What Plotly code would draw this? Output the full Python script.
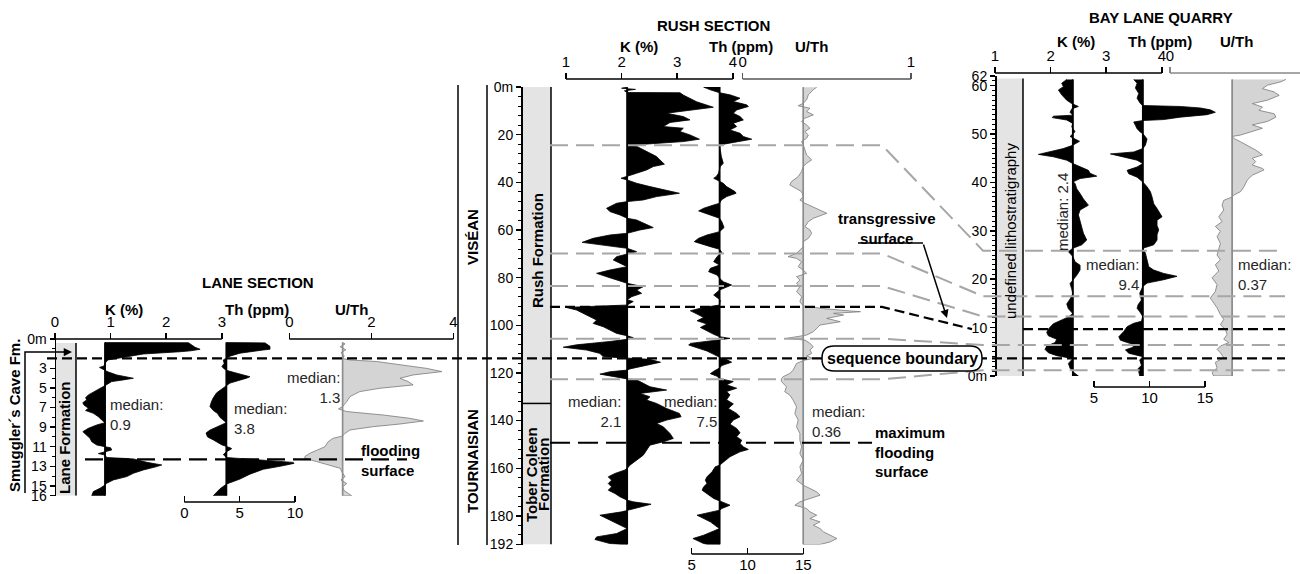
import plotly.graph_objects as go

W, H = 1300, 574
FONT = "Liberation Sans, Arial, Helvetica, sans-serif"

# ------------------------------------------------------------------ DATA
# (depth in m, value) pairs read from the logs
lane_k = [(0.37, 0.90), (0.38, 2.40), (0.85, 2.52), (1.05, 2.61), (1.20, 2.45), (1.30, 2.25), (1.53, 1.59),
          (1.80, 1.29), (2.00, 1.02), (2.14, 0.95), (2.48, 0.90), (2.76, 0.88), (2.90, 0.80), (3.05, 0.85),
          (3.16, 0.90), (3.35, 0.95), (3.67, 1.11), (4.01, 1.41), (4.20, 1.20), (4.35, 1.02), (4.69, 0.92),
          (5.03, 0.81), (5.37, 0.69), (5.71, 0.60), (6.00, 0.55), (6.22, 0.57), (6.50, 0.50), (6.73, 0.52),
          (7.07, 0.60), (7.30, 0.55), (7.59, 0.69), (7.93, 0.78), (8.27, 0.84), (8.54, 0.90), (8.78, 0.75),
          (9.12, 0.60), (9.46, 0.50), (9.80, 0.57), (10.14, 0.63), (10.48, 0.66), (10.82, 0.75), (11.00, 0.90),
          (11.10, 1.00), (11.33, 1.02), (11.50, 0.90), (11.70, 0.78), (11.85, 0.90), (12.10, 0.93), (12.24, 1.41),
          (12.59, 1.65), (12.86, 1.92), (13.03, 1.83), (13.37, 1.59), (13.71, 1.41), (14.05, 1.29), (14.39, 1.05),
          (14.73, 0.93), (14.90, 0.90), (15.24, 0.81), (15.58, 0.69), (16.00, 0.66)]
lane_th = [(0.37, 3.80), (0.40, 7.30), (0.75, 7.74), (1.05, 7.74), (1.12, 7.14), (1.45, 5.03), (1.75, 4.13),
           (1.95, 3.80), (2.14, 3.52), (2.50, 3.60), (2.80, 3.40), (3.00, 3.55), (3.20, 3.80), (3.45, 4.60),
           (3.85, 5.93), (4.00, 5.63), (4.50, 4.13), (5.00, 3.52), (5.50, 2.92), (6.00, 2.62), (6.40, 2.45),
           (6.90, 2.32), (7.30, 2.62), (7.60, 3.00), (8.00, 3.22), (8.54, 3.80), (8.78, 3.37), (9.30, 2.32),
           (9.60, 1.96), (10.00, 2.10), (10.30, 2.62), (10.80, 3.37), (11.10, 4.13), (11.20, 4.28), (11.50, 3.83),
           (11.80, 3.52), (12.10, 3.80), (12.25, 6.23), (12.40, 7.44), (12.60, 9.85), (12.70, 9.91), (13.00, 8.64),
           (13.30, 7.14), (13.80, 5.93), (14.30, 5.03), (14.80, 3.83), (15.30, 3.22), (16.00, 2.62)]
lane_uth = [(0.37, 1.30), (0.50, 1.36), (0.80, 1.24), (1.10, 1.38), (1.40, 1.26), (1.70, 1.34), (2.00, 1.30),
            (2.14, 1.48), (2.30, 2.13), (2.65, 2.70), (3.00, 3.35), (3.33, 3.72), (3.67, 3.02), (4.01, 2.70),
            (4.35, 2.90), (4.69, 3.02), (5.03, 2.21), (5.37, 1.72), (5.88, 1.48), (6.39, 1.40), (6.90, 1.30),
            (7.14, 1.20), (7.41, 1.40), (7.76, 2.29), (8.10, 2.94), (8.37, 3.27), (8.68, 2.70), (8.95, 2.05),
            (9.29, 1.48), (9.63, 1.36), (9.90, 1.30), (10.14, 1.07), (10.48, 0.95), (11.00, 0.87), (11.33, 0.67),
            (11.67, 0.50), (12.00, 0.38), (12.18, 0.38), (12.52, 0.67), (12.86, 0.99), (13.20, 1.24), (13.70, 1.30),
            (14.05, 1.36), (14.40, 1.26), (14.75, 1.40), (15.10, 1.30), (15.50, 1.34), (15.80, 1.45), (16.00, 1.52)]
lane_k_median, lane_th_median, lane_uth_median = 0.9, 3.8, 1.3

rush_k = [(0.1, 2.10), (0.5, 2.00), (1.0, 2.25), (1.6, 2.05), (2.3, 2.10), (2.4, 3.05), (3.4, 3.11), (4.8, 3.23),
          (6.2, 3.35), (8.5, 3.65), (9.6, 3.29), (11.0, 2.81), (12.4, 3.11), (13.8, 3.23), (14.9, 2.87),
          (16.6, 2.75), (17.3, 3.11), (18.7, 3.05), (20.1, 3.23), (21.9, 3.40), (22.9, 3.11), (24.0, 2.51),
          (24.5, 2.10), (24.9, 2.27), (26.4, 2.39), (27.8, 2.51), (29.2, 2.63), (30.6, 2.69), (32.4, 2.77),
          (33.4, 2.57), (34.8, 2.45), (36.2, 2.27), (37.6, 2.10), (38.3, 1.99), (39.0, 2.10), (40.4, 2.27),
          (41.8, 2.51), (43.2, 2.75), (44.6, 3.04), (46.0, 2.63), (47.4, 2.39), (48.1, 2.10), (48.8, 1.91),
          (50.9, 1.73), (52.3, 1.79), (53.7, 1.97), (55.1, 2.10), (55.8, 2.27), (57.9, 2.45), (59.0, 2.57),
          (60.0, 2.33), (61.4, 2.10), (62.1, 1.79), (63.5, 1.49), (65.2, 1.29), (66.3, 1.67), (67.7, 2.10),
          (69.1, 2.27), (70.1, 2.10), (71.2, 1.91), (72.6, 1.85), (74.0, 1.97), (75.4, 2.10), (76.8, 1.79),
          (78.2, 1.55), (79.6, 1.73), (81.0, 1.91), (82.4, 2.10), (83.8, 2.39), (85.2, 2.27), (86.6, 2.36),
          (88.0, 2.18), (89.3, 2.10), (90.0, 2.21), (91.5, 2.10), (92.5, 1.00), (93.6, 1.19), (95.0, 1.31),
          (96.4, 1.43), (97.8, 1.55), (99.2, 1.49), (100.6, 1.67), (102.0, 1.79), (103.4, 1.91), (104.4, 2.10),
          (105.2, 2.21), (105.9, 2.10), (106.8, 1.79), (108.2, 1.19), (109.2, 0.95), (110.4, 1.37), (111.8, 1.61),
          (113.2, 1.67), (113.9, 2.10), (114.3, 2.51), (115.5, 2.70), (116.9, 2.39), (118.3, 2.15), (118.8, 2.10),
          (119.5, 1.79), (120.5, 1.61), (121.6, 1.85), (122.5, 2.10), (122.9, 2.27), (124.4, 2.39), (125.8, 2.51),
          (127.2, 2.81), (128.6, 2.33), (130.0, 2.51), (131.4, 2.45), (132.8, 2.63), (134.9, 2.81), (137.0, 3.04),
          (138.4, 3.07), (139.8, 2.81), (141.2, 2.63), (142.6, 2.75), (145.4, 2.87), (147.5, 2.93), (148.9, 2.75),
          (150.3, 2.51), (152.4, 2.45), (154.5, 2.39), (156.6, 2.27), (158.7, 2.15), (160.1, 2.10), (160.8, 2.05),
          (162.2, 1.88), (163.6, 1.76), (165.0, 1.82), (166.4, 1.76), (167.8, 1.82), (169.2, 1.76), (170.6, 1.88),
          (172.0, 1.97), (173.4, 2.10), (174.1, 2.21), (175.1, 2.53), (176.2, 2.33), (177.6, 2.10), (178.3, 2.00),
          (179.7, 1.61), (181.1, 1.73), (182.5, 1.85), (183.9, 1.97), (185.3, 2.10), (187.4, 1.91), (188.8, 1.55),
          (189.9, 1.52), (191.6, 1.79), (192.0, 2.00)]
rush_th = [(0.0, 7.50), (0.05, 6.07), (1.2, 6.67), (2.0, 7.20), (2.4, 7.50), (3.3, 8.43), (4.7, 9.33), (6.1, 8.73),
           (7.5, 9.93), (8.2, 10.08), (9.6, 9.03), (11.0, 8.73), (12.4, 9.33), (13.8, 9.63), (15.2, 8.73),
           (16.6, 9.03), (18.0, 8.43), (19.4, 9.33), (20.8, 9.63), (21.9, 10.38), (23.1, 9.03), (24.3, 7.50),
           (26.4, 7.56), (29.2, 7.66), (32.0, 7.83), (33.4, 7.56), (36.2, 7.40), (37.6, 7.20), (38.3, 6.97),
           (39.7, 7.50), (40.4, 7.83), (41.8, 8.13), (43.9, 8.88), (44.6, 8.98), (46.0, 8.13), (47.4, 7.66),
           (48.8, 7.50), (49.5, 6.97), (50.9, 6.07), (52.0, 5.62), (53.7, 6.67), (55.1, 7.50), (56.5, 7.70),
           (59.0, 7.90), (60.7, 7.50), (62.1, 6.37), (63.5, 5.62), (64.9, 5.23), (67.0, 6.67), (68.1, 7.50),
           (69.4, 7.70), (71.2, 7.27), (73.3, 6.97), (74.7, 7.50), (76.1, 6.67), (77.5, 6.52), (78.9, 7.27),
           (80.3, 7.50), (81.7, 7.83), (83.1, 8.58), (85.2, 7.50), (87.3, 6.97), (89.4, 7.56), (91.5, 7.50),
           (92.5, 6.07), (93.9, 4.88), (95.3, 5.48), (96.7, 6.07), (98.1, 5.48), (99.5, 6.37), (100.9, 5.78),
           (102.4, 6.37), (103.8, 6.97), (104.8, 7.50), (105.5, 8.43), (106.4, 6.97), (107.6, 4.88), (108.3, 4.73),
           (109.4, 5.48), (110.8, 6.37), (112.2, 6.97), (113.4, 7.50), (114.4, 8.13), (115.5, 8.58), (116.9, 7.70),
           (117.9, 7.50), (119.3, 6.97), (120.3, 6.67), (121.4, 7.27), (122.4, 7.50), (123.6, 8.73), (125.0, 8.13),
           (126.4, 9.03), (127.8, 8.13), (129.2, 8.43), (131.3, 8.13), (133.0, 8.73), (134.9, 8.28), (137.0, 9.03),
           (138.4, 9.33), (139.8, 8.73), (141.5, 8.43), (143.3, 9.03), (145.1, 9.33), (146.8, 9.03), (148.2, 9.48),
           (149.6, 9.33), (151.0, 9.63), (152.1, 10.08), (153.1, 9.33), (155.2, 8.43), (157.3, 7.83), (158.7, 7.50),
           (159.4, 7.11), (161.5, 6.82), (163.6, 6.37), (165.0, 6.22), (166.4, 6.37), (167.8, 6.07), (169.2, 5.93),
           (171.3, 6.52), (172.7, 6.97), (173.7, 7.50), (175.5, 8.43), (176.9, 7.70), (177.6, 7.50), (179.7, 5.48),
           (181.1, 6.07), (182.5, 6.67), (184.6, 7.27), (185.3, 7.50), (188.1, 6.07), (189.5, 5.11), (191.6, 6.07),
           (192.0, 6.40)]
rush_uth = [(0.1, 0.44), (1.1, 0.42), (3.3, 0.39), (5.4, 0.38), (6.8, 0.36), (7.9, 0.33), (8.9, 0.40), (10.3, 0.38),
            (11.7, 0.42), (13.1, 0.37), (14.5, 0.35), (15.9, 0.38), (17.3, 0.40), (18.7, 0.37), (20.1, 0.39),
            (21.5, 0.38), (22.9, 0.35), (24.3, 0.36), (26.4, 0.37), (28.5, 0.38), (30.6, 0.41), (32.0, 0.38),
            (33.4, 0.36), (35.5, 0.35), (37.6, 0.33), (39.7, 0.29), (41.1, 0.28), (42.5, 0.32), (43.9, 0.35),
            (46.0, 0.36), (47.4, 0.34), (48.8, 0.37), (50.9, 0.44), (53.0, 0.50), (55.1, 0.42), (56.5, 0.39),
            (58.6, 0.37), (60.0, 0.40), (61.4, 0.41), (63.5, 0.39), (64.9, 0.36), (67.0, 0.36), (69.8, 0.32),
            (71.2, 0.27), (71.9, 0.32), (73.3, 0.35), (75.4, 0.33), (76.8, 0.36), (78.2, 0.38), (79.6, 0.32),
            (81.0, 0.34), (82.4, 0.32), (83.8, 0.34), (85.9, 0.32), (88.0, 0.35), (90.1, 0.34), (91.9, 0.36),
            (93.0, 0.48), (94.0, 0.64), (94.3, 0.70), (95.0, 0.54), (95.7, 0.60), (97.1, 0.50), (98.5, 0.58),
            (99.9, 0.46), (101.3, 0.44), (102.7, 0.42), (104.1, 0.38), (104.8, 0.32), (105.5, 0.26), (106.2, 0.37),
            (107.6, 0.40), (109.0, 0.42), (110.4, 0.40), (111.8, 0.41), (112.9, 0.38), (113.9, 0.42), (114.6, 0.37),
            (116.0, 0.32), (117.4, 0.31), (118.8, 0.30), (120.2, 0.28), (121.6, 0.24), (122.5, 0.23), (123.6, 0.23),
            (125.8, 0.26), (127.9, 0.25), (129.3, 0.28), (131.4, 0.30), (134.2, 0.32), (137.0, 0.31), (139.8, 0.33),
            (142.6, 0.32), (145.4, 0.34), (148.2, 0.34), (151.0, 0.35), (153.8, 0.34), (156.6, 0.36), (159.4, 0.34),
            (162.2, 0.35), (165.0, 0.32), (167.1, 0.36), (168.5, 0.40), (169.9, 0.44), (171.3, 0.46), (172.7, 0.40),
            (174.1, 0.34), (175.5, 0.31), (176.9, 0.38), (178.3, 0.40), (179.7, 0.44), (181.1, 0.40), (182.5, 0.46),
            (183.9, 0.42), (185.3, 0.46), (186.7, 0.48), (188.1, 0.52), (189.5, 0.56), (190.9, 0.52), (192.0, 0.46)]
rush_k_median, rush_th_median, rush_uth_median = 2.1, 7.5, 0.36

# Bay Lane Quarry: (height above base in m, value)
bay_k = [(61.3, 2.29), (60.5, 2.20), (59.8, 2.23), (59.1, 2.14), (58.1, 2.20), (57.0, 2.29), (56.3, 2.38),
         (55.7, 2.50), (55.2, 2.38), (54.5, 2.35), (53.9, 2.40), (53.7, 2.05), (53.4, 2.03), (52.9, 2.29),
         (52.2, 2.40), (51.5, 2.38), (50.5, 2.44), (49.5, 2.35), (48.5, 2.52), (47.7, 2.40), (47.0, 2.23),
         (46.3, 1.93), (45.8, 1.78), (45.3, 2.05), (44.6, 2.29), (43.9, 2.40), (43.2, 2.53), (42.5, 2.68),
         (41.9, 2.71), (41.3, 2.83), (40.8, 2.53), (40.1, 2.40), (39.8, 2.44), (38.7, 2.47), (37.7, 2.53),
         (36.6, 2.59), (35.3, 2.68), (34.3, 2.53), (33.3, 2.50), (32.2, 2.53), (30.9, 2.56), (29.5, 2.59),
         (28.1, 2.65), (27.1, 2.56), (26.4, 2.40), (25.7, 2.32), (24.7, 2.40), (23.6, 2.44), (22.9, 2.53),
         (21.9, 2.53), (20.8, 2.47), (19.8, 2.40), (19.1, 2.35), (18.0, 2.38), (17.0, 2.40), (15.9, 2.35),
         (14.9, 2.29), (13.9, 2.32), (12.9, 2.40), (12.2, 2.32), (11.5, 2.17), (10.8, 2.05), (9.7, 1.96),
         (9.0, 1.93), (8.3, 1.96), (7.6, 2.11), (6.9, 2.08), (6.2, 1.93), (5.5, 1.90), (4.8, 1.96), (4.2, 2.11),
         (3.6, 2.40), (2.6, 2.32), (1.6, 2.35), (0.9, 2.40), (0.0, 2.50)]
bay_th = [(61.3, 8.58), (60.5, 8.88), (59.5, 8.73), (58.4, 9.03), (57.4, 8.88), (56.3, 9.18), (55.9, 9.40),
          (55.7, 12.78), (55.4, 14.58), (55.0, 15.48), (54.5, 15.93), (54.0, 15.18), (53.5, 12.78), (53.0, 11.28),
          (52.8, 9.40), (52.5, 8.58), (51.8, 8.73), (51.1, 8.88), (50.4, 9.18), (50.1, 9.40), (49.0, 9.78),
          (47.7, 9.63), (47.0, 9.40), (46.3, 8.58), (45.9, 6.48), (45.3, 7.68), (44.6, 8.88), (43.9, 9.40),
          (43.2, 8.88), (42.5, 7.98), (41.8, 8.13), (41.1, 8.88), (40.1, 9.40), (39.1, 9.78), (38.1, 10.08),
          (37.0, 10.23), (35.6, 10.38), (34.6, 10.68), (33.6, 10.98), (32.9, 11.13), (32.2, 10.68), (31.1, 10.68),
          (30.2, 10.83), (29.2, 10.68), (28.1, 10.68), (27.1, 10.38), (26.4, 9.40), (25.4, 9.63), (24.0, 9.78),
          (22.6, 9.93), (21.9, 10.38), (21.2, 11.28), (20.6, 12.48), (19.9, 11.28), (19.2, 9.78), (18.5, 9.40),
          (17.1, 9.12), (15.7, 9.27), (14.7, 8.97), (14.0, 8.88), (13.3, 9.12), (12.3, 9.40), (11.3, 9.27),
          (10.9, 8.58), (10.2, 7.98), (9.2, 7.68), (8.1, 7.23), (7.4, 7.38), (6.7, 8.28), (6.0, 8.58), (5.4, 7.83),
          (4.7, 8.13), (4.0, 9.40), (3.3, 9.12), (2.2, 9.27), (1.5, 8.97), (0.0, 9.12)]
bay_uth = [(61.3, 0.69), (60.8, 0.66), (60.1, 0.58), (59.4, 0.55), (58.7, 0.62), (58.0, 0.65), (57.0, 0.58),
           (56.3, 0.49), (55.6, 0.55), (54.9, 0.53), (54.2, 0.62), (53.5, 0.63), (52.6, 0.58), (51.9, 0.49),
           (51.2, 0.55), (50.5, 0.49), (49.8, 0.42), (49.5, 0.37), (49.1, 0.38), (48.4, 0.42), (47.7, 0.46),
           (46.7, 0.51), (45.7, 0.55), (45.0, 0.49), (44.3, 0.51), (43.6, 0.49), (42.9, 0.55), (42.6, 0.56),
           (41.5, 0.49), (40.5, 0.46), (39.1, 0.44), (38.1, 0.42), (37.4, 0.38), (37.0, 0.37), (36.3, 0.32),
           (35.3, 0.31), (34.3, 0.32), (32.9, 0.29), (31.9, 0.31), (30.9, 0.27), (29.9, 0.30), (28.8, 0.28),
           (27.4, 0.30), (26.0, 0.29), (25.0, 0.28), (24.0, 0.30), (23.0, 0.27), (21.7, 0.29), (20.3, 0.25),
           (18.9, 0.28), (17.5, 0.27), (16.1, 0.24), (15.1, 0.26), (14.1, 0.28), (12.7, 0.30), (11.7, 0.32),
           (10.6, 0.30), (9.6, 0.33), (8.6, 0.34), (7.6, 0.32), (6.9, 0.35), (6.2, 0.30), (5.5, 0.28), (4.8, 0.30),
           (3.8, 0.32), (2.8, 0.27), (1.7, 0.28), (0.7, 0.25), (0.0, 0.26)]
bay_k_median, bay_th_median, bay_uth_median = 2.4, 9.4, 0.37

# tick values / labels
lane_depth_ticks = [0, 3, 5, 7, 9, 11, 13, 15, 16]
rush_depth_ticks = [0, 20, 40, 60, 80, 100, 120, 140, 160, 180, 192]
bay_height_ticks = [0, 10, 20, 30, 40, 50, 60, 62]
lane_k_ticks, lane_th_ticks, lane_uth_ticks = [0, 1, 2, 3], [0, 5, 10], [0, 2, 4]
rush_k_ticks, rush_th_ticks, rush_uth_ticks = [1, 2, 3, 4], [5, 10, 15], [0, 1]
bay_k_ticks, bay_th_ticks, bay_uth_ticks = [1, 2, 3, 4], [5, 10, 15], [0]

# stratigraphic surfaces (depth / height in m)
lane_formation_top = 0.4
lane_seq_boundary = 2.0
lane_flooding_surface = 12.3
rush_gray_surfaces = [24.4, 69.9, 83.5, 105.6, 122.7]
rush_transgressive = 92.3
rush_seq_boundary = 113.9
rush_max_flooding = 149.3
rush_formation_contact = 132.8
bay_gray_surfaces = [25.9, 16.5, 12.3, 6.4, 1.2]
bay_transgressive = 9.7
bay_seq_boundary = 3.65
bay_section_top = 61.5

# ------------------------------------------------------------------ GEOMETRY
def fx(p):
    return p / W


def fy(p):
    return 1 - p / H


YAX = {
    'y': dict(top=339.0, bottom=495.7, rng=[16, 0], line_x=54.5, ticks=lane_depth_ticks, minor=1),
    'y2': dict(top=87.0, bottom=544.5, rng=[192, 0], line_x=521.0, ticks=rush_depth_ticks, minor=4),
    'y3': dict(top=76.0, bottom=376.0, rng=[0, 62], line_x=995.0, ticks=bay_height_ticks, minor=1),
}


def ypaper(yid, v):
    a = YAX[yid]
    r0, r1 = a['rng']
    t = (v - r0) / (r1 - r0)
    return fy(a['bottom']) + t * (fy(a['top']) - fy(a['bottom']))


XAX = {
    'x': dict(p0=55.0, v0=0, s=55.6, dom=(48, 226), ext=(0, 3), py=339, side='top', ticks=lane_k_ticks, color='black'),
    'x2': dict(p0=184.3, v0=0, s=11.07, dom=(178, 300), ext=(0, 10), py=502, side='bottom', ticks=lane_th_ticks, color='black'),
    'x3': dict(p0=289.3, v0=0, s=41.0, dom=(284, 458), ext=(0, 4), py=339, side='top', ticks=lane_uth_ticks, color='black'),
    'x4': dict(p0=566.0, v0=1, s=55.6, dom=(548, 740), ext=(1, 4), py=79, side='top', ticks=rush_k_ticks, color='black'),
    'x5': dict(p0=691.7, v0=5, s=11.16, dom=(675, 812), ext=(5, 15), py=554, side='bottom', ticks=rush_th_ticks, color='black'),
    'x6': dict(p0=742.7, v0=0, s=168.2, dom=(738, 915), ext=(0, 1), py=79, side='top', ticks=rush_uth_ticks, color='#555555'),
    'x7': dict(p0=995.0, v0=1, s=55.6, dom=(985, 1168), ext=(1, 4), py=73, side='top', ticks=bay_k_ticks, color='black'),
    'x8': dict(p0=1094.0, v0=5, s=11.1, dom=(1088, 1228), ext=(5, 15), py=387, side='bottom', ticks=bay_th_ticks, color='black'),
    'x9': dict(p0=1170.0, v0=0, s=168.0, dom=(1165, 1300), ext=(0, 0.774), py=73, side='top', ticks=bay_uth_ticks, color='#888888'),
}

fig = go.Figure()
layout = dict(width=W, height=H, margin=dict(l=0, r=0, t=0, b=0, pad=0, autoexpand=False), autosize=False,
              paper_bgcolor='white', plot_bgcolor='rgba(0,0,0,0)', showlegend=False,
              font=dict(family=FONT, size=14, color='black'))

for xid, a in XAX.items():
    key = 'xaxis' if xid == 'x' else 'xaxis' + xid[1:]
    lo = a['v0'] + (a['dom'][0] - a['p0']) / a['s']
    hi = a['v0'] + (a['dom'][1] - a['p0']) / a['s']
    layout[key] = dict(domain=[fx(a['dom'][0]), fx(a['dom'][1])], range=[lo, hi], anchor='free',
                       position=fy(a['py']), side=a['side'], showline=False, showgrid=False, zeroline=False,
                       automargin=False,
                       ticks='outside' if a['side'] == 'top' else 'inside', ticklen=6, tickwidth=1.5,
                       tickcolor=a['color'], tickmode='array', tickvals=a['ticks'],
                       ticktext=[str(t) for t in a['ticks']], tickfont=dict(size=15, family=FONT, color='black'),
                       fixedrange=True)

for yid, a in YAX.items():
    key = 'yaxis' if yid == 'y' else 'yaxis' + yid[1:]
    txt = ['0m' if t == 0 else str(t) for t in a['ticks']]
    layout[key] = dict(domain=[fy(a['bottom']), fy(a['top'])], range=a['rng'], anchor='free',
                       position=fx(a['line_x']), side='left', showline=True, linecolor='black', linewidth=1.5,
                       showgrid=False, zeroline=False, automargin=False, ticks='outside', ticklen=5, tickwidth=1.5,
                       tickcolor='black', tickmode='array', tickvals=a['ticks'], ticktext=txt,
                       tickfont=dict(size=14, family=FONT, color='black'),
                       minor=dict(tickmode='linear', tick0=0, dtick=a['minor'], ticks='outside',
                                  ticklen=3, tickwidth=1, tickcolor='black', showgrid=False),
                       fixedrange=True)

# ------------------------------------------------------------------ TRACKS
tracks = [
    (lane_k, lane_k_median, 'x', 'y', 'black'), (lane_th, lane_th_median, 'x2', 'y', 'black'),
    (lane_uth, lane_uth_median, 'x3', 'y', 'gray'),
    (rush_k, rush_k_median, 'x4', 'y2', 'black'), (rush_th, rush_th_median, 'x5', 'y2', 'black'),
    (rush_uth, rush_uth_median, 'x6', 'y2', 'gray'),
    (bay_k, bay_k_median, 'x7', 'y3', 'black'), (bay_th, bay_th_median, 'x8', 'y3', 'black'),
    (bay_uth, bay_uth_median, 'x9', 'y3', 'gray'),
]
for pairs, med, xid, yid, style in tracks:
    d = [p[0] for p in pairs]
    v = [p[1] for p in pairs]
    if style == 'black':
        fill, edge, medc, medw = 'black', 'black', 'black', 1.8
    else:
        fill, edge, medc, medw = '#d4d4d4', '#7a7a7a', '#8c8c8c', 1.6
    fig.add_trace(go.Scatter(x=v + [med, med], y=d + [d[-1], d[0]], mode='lines', fill='toself',
                             fillcolor=fill, line=dict(color=edge, width=0.8), xaxis=xid, yaxis=yid,
                             hoverinfo='skip'))
    fig.add_trace(go.Scatter(x=[med, med], y=[d[0], d[-1]], mode='lines', line=dict(color=medc, width=medw),
                             xaxis=xid, yaxis=yid, hoverinfo='skip'))

# ------------------------------------------------------------------ SHAPES
shapes = []
GRAY_BAR = '#e4e4e4'
GRAY_DASH = '#a6a6a6'


def ppath(points, close=False):
    s = 'M ' + ' L '.join('%.5f,%.5f' % (fx(x), y) for x, y in points)
    return s + (' Z' if close else '')


# axis lines of the value tracks
for xid, a in XAX.items():
    shapes.append(dict(type='line', xref=xid, yref='paper', x0=a['ext'][0], x1=a['ext'][1],
                       y0=fy(a['py']), y1=fy(a['py']), line=dict(color=a['color'], width=1.5)))

# lithostratigraphic columns
shapes += [
    dict(type='rect', xref='paper', yref='y', x0=fx(55), x1=fx(76), y0=lane_formation_top, y1=16,
         fillcolor=GRAY_BAR, line=dict(width=0), layer='below'),
    dict(type='line', xref='paper', yref='y', x0=fx(76), x1=fx(76), y0=lane_formation_top, y1=16,
         line=dict(color='black', width=1.5)),
    dict(type='rect', xref='paper', yref='y2', x0=fx(522.5), x1=fx(551), y0=0, y1=192,
         fillcolor=GRAY_BAR, line=dict(width=0), layer='below'),
    dict(type='line', xref='paper', yref='y2', x0=fx(551), x1=fx(551), y0=0, y1=192,
         line=dict(color='black', width=1.5)),
    dict(type='line', xref='paper', yref='y2', x0=fx(522.5), x1=fx(551), y0=rush_formation_contact,
         y1=rush_formation_contact, line=dict(color='black', width=1.5)),
    dict(type='line', xref='paper', yref='paper', x0=fx(458), x1=fx(458), y0=fy(85), y1=fy(545),
         line=dict(color='black', width=1.5)),
    dict(type='line', xref='paper', yref='paper', x0=fx(487), x1=fx(487), y0=fy(85), y1=fy(545),
         line=dict(color='black', width=1.5)),
    dict(type='rect', xref='paper', yref='y3', x0=fx(995.5), x1=fx(1023), y0=0, y1=bay_section_top,
         fillcolor=GRAY_BAR, line=dict(width=0), layer='below'),
    dict(type='line', xref='paper', yref='y3', x0=fx(1023), x1=fx(1023), y0=0, y1=bay_section_top,
         line=dict(color='black', width=1.5)),
]

# correlation surfaces
for r, b in zip(rush_gray_surfaces, bay_gray_surfaces):
    yr, yb = ypaper('y2', r), ypaper('y3', b)
    shapes.append(dict(type='path', xref='paper', yref='paper',
                       path=ppath([(550, yr), (882, yr), (983, yb), (1285, yb)]),
                       line=dict(color=GRAY_DASH, width=2, dash='18px,8px')))
yr, yb = ypaper('y2', rush_transgressive), ypaper('y3', bay_transgressive)
shapes.append(dict(type='path', xref='paper', yref='paper', path=ppath([(550, yr), (882, yr), (972, yb)]),
                   line=dict(color='black', width=2.2, dash='10px,5px')))
shapes.append(dict(type='path', xref='paper', yref='paper', path=ppath([(1023, yb), (1285, yb)]),
                   line=dict(color='black', width=2.2, dash='10px,5px')))
ysb = ypaper('y2', rush_seq_boundary)
shapes.append(dict(type='path', xref='paper', yref='paper', path=ppath([(47, ysb), (1285, ysb)]),
                   line=dict(color='black', width=2.2, dash='10px,5px')))
shapes.append(dict(type='line', xref='paper', yref='y', x0=fx(85), x1=fx(407), y0=lane_flooding_surface,
                   y1=lane_flooding_surface, line=dict(color='black', width=2.2, dash='18px,8px')))
shapes.append(dict(type='line', xref='paper', yref='y2', x0=fx(550), x1=fx(872), y0=rush_max_flooding,
                   y1=rush_max_flooding, line=dict(color='black', width=2.2, dash='20px,8px')))

# rounded box of "sequence boundary"
bx0, bx1, by0, by1, rr = 822, 982, 346, 371, 12
box = ('M %.5f,%.5f L %.5f,%.5f Q %.5f,%.5f %.5f,%.5f L %.5f,%.5f Q %.5f,%.5f %.5f,%.5f '
       'L %.5f,%.5f Q %.5f,%.5f %.5f,%.5f L %.5f,%.5f Q %.5f,%.5f %.5f,%.5f Z') % (
    fx(bx0 + rr), fy(by0), fx(bx1 - rr), fy(by0), fx(bx1), fy(by0), fx(bx1), fy(by0 + rr),
    fx(bx1), fy(by1 - rr), fx(bx1), fy(by1), fx(bx1 - rr), fy(by1),
    fx(bx0 + rr), fy(by1), fx(bx0), fy(by1), fx(bx0), fy(by1 - rr),
    fx(bx0), fy(by0 + rr), fx(bx0), fy(by0), fx(bx0 + rr), fy(by0))
shapes.append(dict(type='path', xref='paper', yref='paper', path=box, fillcolor='white',
                   line=dict(color='black', width=1.5)))

# Smuggler's Cave arrow frame and transgressive underline
shapes.append(dict(type='path', xref='paper', yref='paper', path=ppath([(25, fy(493)), (25, fy(352)), (64, fy(352))]),
                   line=dict(color='black', width=1.5)))
shapes.append(dict(type='line', xref='paper', yref='paper', x0=fx(858), x1=fx(923), y0=fy(243), y1=fy(243),
                   line=dict(color='black', width=1.5)))

# ------------------------------------------------------------------ TEXT
ann = []


def text(s, x, y, size=15, xanchor='center', yanchor='middle', angle=0, align='center', color='black'):
    ann.append(dict(text=s, x=fx(x), y=fy(y), xref='paper', yref='paper', showarrow=False,
                    xanchor=xanchor, yanchor=yanchor, textangle=angle, align=align,
                    font=dict(size=size, color=color, family=FONT)))


MED = '#262626'
text('<b>LANE SECTION</b>', 258, 282)
text('<b>K (%)</b>', 124, 309)
text('<b>Th (ppm)</b>', 257, 309)
text('<b>U/Th</b>', 351, 309)
text('<b>RUSH SECTION</b>', 713, 26)
text('<b>K (%)</b>', 639, 47)
text('<b>Th (ppm)</b>', 741, 47)
text('<b>U/Th</b>', 811, 47)
text('<b>BAY LANE QUARRY</b>', 1161, 18)
text('<b>K (%)</b>', 1076, 42)
text('<b>Th (ppm)</b>', 1160, 42)
text('<b>U/Th</b>', 1236, 42)

text('median:<br>%s' % lane_k_median, 108, 414, xanchor='left', align='left', color=MED)
text('median:<br>%s' % lane_th_median, 232, 418, xanchor='left', align='left', color=MED)
text('median:<br>%s' % lane_uth_median, 342, 387, xanchor='right', align='right', color=MED)
text('median:<br>%s' % rush_k_median, 623, 411, xanchor='right', align='right', color=MED)
text('median:<br>%s' % rush_th_median, 719, 411, xanchor='right', align='right', color=MED)
text('median:<br>%s' % rush_uth_median, 810, 421, xanchor='left', align='left', color=MED)
text('median: %s' % bay_k_median, 1062, 212, angle=-90, color=MED)
text('median:<br>%s' % bay_th_median, 1141, 275, xanchor='right', align='right', color=MED)
text('median:<br>%s' % bay_uth_median, 1236, 275, xanchor='left', align='left', color=MED)

text('<b>VISÉAN</b>', 472, 237, angle=-90)
text('<b>TOURNAISIAN</b>', 472, 461, angle=-90)
text('<b>Rush Formation</b>', 537, 251, angle=-90)
text('<b>Tober Coleen</b>', 531, 475, angle=-90)
text('<b>Formation</b>', 543, 475, angle=-90)
text('undefined lithostratigraphy', 1010, 231, angle=-90)
text('<b>Lane Formation</b>', 65, 438, angle=-90)
text('<b>Smuggler´s Cave Fm.</b>', 14, 416, angle=-90)

text('<b>transgressive<br>surface</b>', 887, 228)
text('<b>maximum<br>flooding<br>surface</b>', 873, 452, xanchor='left', align='left')
text('<b>flooding<br>surface</b>', 359, 460, xanchor='left', align='left')
text('<b>sequence boundary</b>', 902, 358.5, size=16)

# arrows
ann.append(dict(text='', x=fx(947), y=fy(318), xref='paper', yref='paper', showarrow=True, ax=-24, ay=-75,
                arrowhead=2, arrowsize=1.1, arrowwidth=1.5, arrowcolor='black'))
ann.append(dict(text='', x=fx(72), y=fy(352), xref='paper', yref='paper', showarrow=True, ax=-10, ay=0,
                arrowhead=2, arrowsize=1.1, arrowwidth=1.5, arrowcolor='black'))

layout['shapes'] = shapes
layout['annotations'] = ann
fig.update_layout(**layout)
# the page's default 8px body margin would shift the 1300x574 figure out of the window
fig.write_html('out.html', config={'displayModeBar': False, 'staticPlot': True},
               post_script="document.body.style.margin='0';document.body.style.overflow='hidden';")
